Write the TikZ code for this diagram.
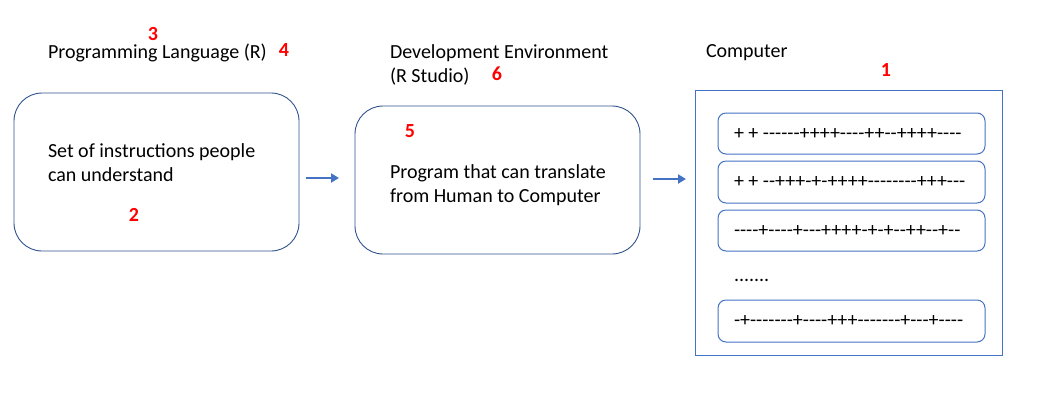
\documentclass[tikz,border=0pt]{standalone}
\usepackage{fontspec}
\setmainfont{Carlito}[Ligatures=TeXOff]
\usetikzlibrary{arrows.meta}
\begin{document}
\begin{tikzpicture}[x=1pt,y=-1pt,
  every node/.style={inner sep=0pt,outer sep=0pt},
  txt/.style={anchor=west,font=\fontsize{20}{24}\selectfont,align=left},
  num/.style={anchor=center,text=red,font=\fontsize{20}{24}\selectfont\bfseries},
  bigbox/.style={draw={rgb,255:red,47;green,82;blue,143},line width=0.9pt,rounded corners=28pt},
  compbox/.style={draw={rgb,255:red,68;green,114;blue,196},line width=1pt},
  rowbox/.style={draw={rgb,255:red,68;green,114;blue,196},line width=1pt,rounded corners=8pt},
  arr/.style={draw={rgb,255:red,68;green,114;blue,196},line width=2.8pt,-{Triangle[length=8pt,width=9pt]}}
]
\useasboundingbox (0,0) rectangle (1041,408);
% boxes
\draw[bigbox] (14,93) rectangle (299,251);
\node (b1) at (156.5,172) {};
\draw[bigbox] (355,106) rectangle (640,254);
\node (b2) at (497.5,180) {};
\draw[compbox] (695,90) rectangle (1002,355);
\foreach \ya/\yb in {113/154,161/203,210/251,300/342}{
  \draw[rowbox] (718,\ya) rectangle (985,\yb);
}
% arrows
\coordinate (a1s) at (306,178);
\coordinate (a1e) at (339,178);
\coordinate (a2s) at (653,179);
\coordinate (a2e) at (686,179);
\draw[arr] (a1s) -- (a1e);
\draw[arr] (a2s) -- (a2e);
% titles
\node[txt] (t1) at (48,53) {Programming Language (R)};
\node[txt] (t2) at (390,65) {Development Environment\\(R Studio)};
\node[txt] (t3) at (706,53) {Computer};
% box texts
\node[txt] (x1) at (48,163) {Set of instructions people\\can understand};
\node[txt] (x2) at (390,185) {Program that can translate\\from Human to Computer};
% rows
\node[txt] (r1) at (734,133.5) {+ + ------++++----++--++++----};
\node[txt] (r2) at (734,182) {+ + --+++-+-++++--------+++---};
\node[txt] (r3) at (734,230.5) {----+----+---++++-+-+--++--+--};
\node[txt] (r4) at (734,280) {.......};
\node[txt] (r5) at (734,321) {-+-------+----+++-------+---+----};
% numbers
\node[num] (n1) at (886,70) {1};
\node[num] (n2) at (134,215) {2};
\node[num] (n3) at (153,34) {3};
\node[num] (n4) at (284,50) {4};
\node[num] (n5) at (410,131) {5};
\node[num] (n6) at (497,74) {6};
\end{tikzpicture}
\end{document}
